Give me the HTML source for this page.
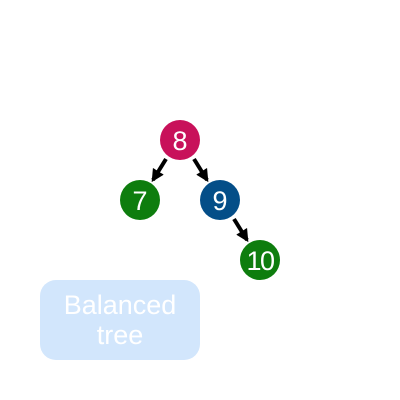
<!DOCTYPE html>
<html><head><meta charset="utf-8"><style>
html,body{margin:0;padding:0;background:#fff;width:400px;height:400px;overflow:hidden}
svg{display:block}
text{font-family:"Liberation Sans",sans-serif}
</style></head><body>
<svg width="400" height="400">
<defs><marker id="ah" viewBox="0 0 10 10" refX="8" refY="5" markerWidth="3.2" markerHeight="3.2" orient="auto"><path d="M0,0L10,5L0,10z" fill="#000"/></marker></defs>
<g stroke="#000" stroke-width="4" marker-end="url(#ah)">
<line x1="166" y1="159" x2="153" y2="180"/>
<line x1="194" y1="159" x2="207" y2="180"/>
<line x1="234" y1="219" x2="247" y2="240"/>
</g>
<g><circle cx="180" cy="140" r="20" fill="#c8115a"/><text x="180" y="150" font-size="27" fill="#fff" text-anchor="middle">8</text></g>
<g><circle cx="140" cy="200" r="20" fill="#0e7d0e"/><text x="140" y="210" font-size="27" fill="#fff" text-anchor="middle">7</text></g>
<g><circle cx="220" cy="200" r="20" fill="#044e88"/><text x="220" y="210" font-size="27" fill="#fff" text-anchor="middle">9</text></g>
<g><circle cx="260" cy="260" r="20" fill="#0e7d0e"/><text x="260" y="270" font-size="27" fill="#fff" text-anchor="middle" letter-spacing="-1.5">10</text></g>
<g><rect x="40" y="280" width="160" height="80" rx="16" fill="#d2e6fc"/>
<text x="120" y="314" font-size="27" fill="#fff" text-anchor="middle">Balanced</text>
<text x="120" y="344" font-size="27" fill="#fff" text-anchor="middle">tree</text></g>
</svg>
</body></html>
